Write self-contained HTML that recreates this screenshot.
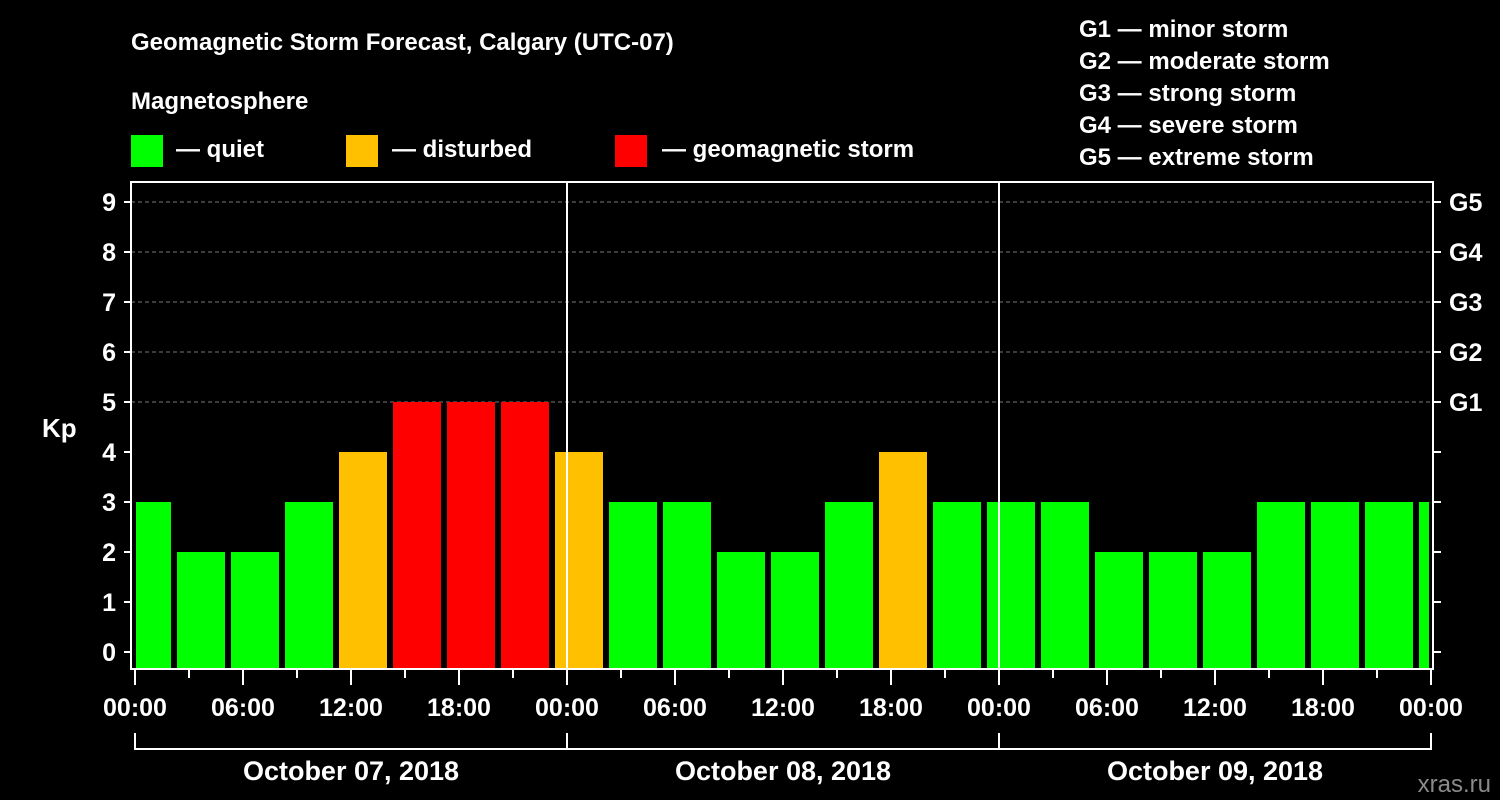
<!DOCTYPE html>
<html><head><meta charset="utf-8"><style>body{margin:0;background:#000}svg{display:block}text{font-family:"Liberation Sans",Arial,sans-serif;font-weight:bold;fill:#fff}</style></head>
<body>
<svg width="1500" height="800" viewBox="0 0 1500 800">
<rect width="1500" height="800" fill="#000"/>
<text x="131" y="50" font-size="24">Geomagnetic Storm Forecast, Calgary (UTC-07)</text>
<text x="131" y="109" font-size="24">Magnetosphere</text>
<g>
<rect x="131" y="135" width="32" height="32" fill="#00ff00"/>
<text x="176" y="157" font-size="24">— quiet</text>
<rect x="346" y="135" width="32" height="32" fill="#ffc000"/>
<text x="392" y="157" font-size="24">— disturbed</text>
<rect x="615" y="135" width="32" height="32" fill="#ff0000"/>
<text x="662" y="157" font-size="24">— geomagnetic storm</text>
</g>
<g font-size="24">
<text x="1079" y="37">G1 — minor storm</text>
<text x="1079" y="69">G2 — moderate storm</text>
<text x="1079" y="101">G3 — strong storm</text>
<text x="1079" y="133">G4 — severe storm</text>
<text x="1079" y="165">G5 — extreme storm</text>
</g>
<text x="42" y="437" font-size="26">Kp</text>
<text x="1491" y="792" font-size="24" text-anchor="end" fill="#888" style="fill:#8a8a8a;font-weight:normal">xras.ru</text>
<defs><clipPath id="pc"><rect x="136" y="182" width="1293" height="486"/></clipPath></defs>
<g id="grid"></g>
<g id="bars" clip-path="url(#pc)"></g>
<g id="axes"></g>
</svg>
<script>
const kpValues=[3,2,2,3,4,5,5,5,4,3,3,2,2,3,4,3,3,3,2,2,2,3,3,3,3];
const yTicks=[0,1,2,3,4,5,6,7,8,9];
const gLabels=["","","","","","G1","G2","G3","G4","G5"];
const xTickLabels=["00:00","06:00","12:00","18:00","00:00","06:00","12:00","18:00","00:00","06:00","12:00","18:00","00:00"];
const dayLabels=["October 07, 2018","October 08, 2018","October 09, 2018"];
const NS="http://www.w3.org/2000/svg";
const X=h=>135+18*h, Y=v=>652-50*v;
function mk(tag,attrs,parent,txt){const e=document.createElementNS(NS,tag);for(const k in attrs)e.setAttribute(k,attrs[k]);if(txt!==undefined)e.textContent=txt;parent.appendChild(e);return e;}
const grid=document.getElementById('grid'),bars=document.getElementById('bars'),axes=document.getElementById('axes');
yTicks.forEach(v=>{if(v>=5){const l=mk('line',{x1:131,x2:1433,y1:Y(v),y2:Y(v),stroke:'#777','stroke-dasharray':'4,3','stroke-width':1},grid);}});
kpValues.forEach((v,i)=>{const c=v>=5?'#ff0000':(v>=4?'#ffc000':'#00ff00');const x0=X(3*i-1)+6;
const r=mk('rect',{x:x0,y:Y(v),width:48,height:Y(0)-Y(v)+16,fill:c},bars);
});
// frame
const f=mk('rect',{x:131,y:182,width:1302,height:487,fill:'none',stroke:'#fff','stroke-width':2},axes);

[1,2].forEach(d=>{const l=mk('line',{x1:X(24*d),x2:X(24*d),y1:182,y2:669,stroke:'#fff','stroke-width':2},axes);});
yTicks.forEach((v,i)=>{
 const t=mk('line',{x1:124,x2:131,y1:Y(v),y2:Y(v),stroke:'#fff','stroke-width':2},axes);
 const tr=mk('line',{x1:1433,x2:1441,y1:Y(v),y2:Y(v),stroke:'#fff','stroke-width':2},axes);
 const lb=mk('text',{x:116,y:Y(v)+9,'font-size':25,'text-anchor':'end'},axes,String(v));
 if(gLabels[i]){const g=mk('text',{x:1449,y:Y(v)+9,'font-size':25},axes,gLabels[i]);}
});
for(let h=0;h<=72;h+=3){const major=h%6===0;const t=mk('line',{x1:X(h),x2:X(h),y1:670,y2:major?685:678,stroke:'#fff','stroke-width':2},axes);}
xTickLabels.forEach((s,i)=>{const t=mk('text',{x:X(6*i),y:716,'font-size':25,'text-anchor':'middle'},axes,s);});
const br=mk('path',{d:`M${X(0)} 733V749H${X(72)}V733M${X(24)} 733V749M${X(48)} 733V749`,fill:'none',stroke:'#fff','stroke-width':2},axes);
dayLabels.forEach((s,i)=>{const t=mk('text',{x:X(24*i+12),y:780,'font-size':27,'text-anchor':'middle'},axes,s);});
</script>
</body></html>
